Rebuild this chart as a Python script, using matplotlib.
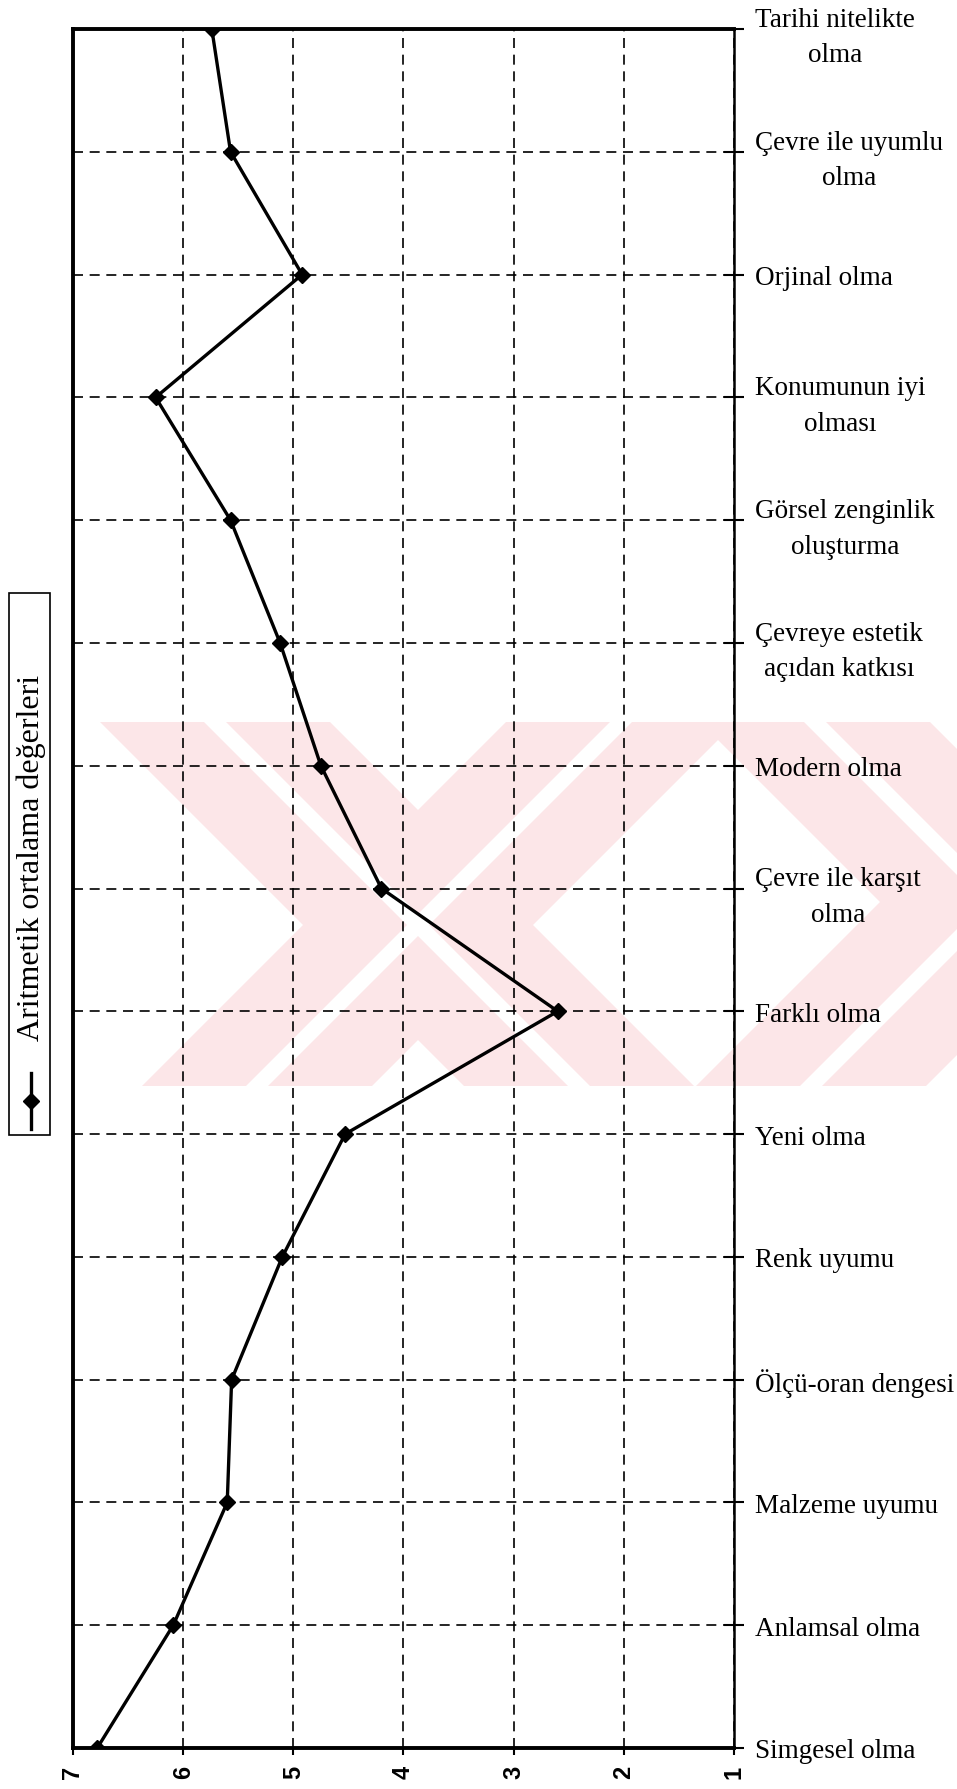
import matplotlib
matplotlib.use("Agg")
import matplotlib.pyplot as plt
from matplotlib.patches import Polygon, Rectangle
from matplotlib.lines import Line2D

# data (top to bottom)
categories = [
    "Tarihi nitelikte\nolma", "Çevre ile uyumlu\nolma", "Orjinal olma",
    "Konumunun iyi\nolması", "Görsel zenginlik\noluşturma",
    "Çevreye estetik\naçıdan katkısı", "Modern olma", "Çevre ile karşıt\nolma",
    "Farklı olma", "Yeni olma", "Renk uyumu", "Ölçü-oran dengesi",
    "Malzeme uyumu", "Anlamsal olma", "Simgesel olma",
]
values = [5.74, 5.57, 4.92, 6.25, 5.57, 5.12, 4.75, 4.20, 2.60, 4.53, 5.10, 5.56, 5.60, 6.09, 6.78]
scale_ticks = [7, 6, 5, 4, 3, 2, 1]
legend_label = "Aritmetik ortalama değerleri"

W, H = 957, 1790
fig = plt.figure(figsize=(W / 100, H / 100), dpi=100)


def fx(px):
    return px / W


def fy(py):
    return 1 - py / H


# faint pink watermark behind the chart
pink = "#fce6e8"
y0, y1 = 723, 1087
bands = [
    # (top-left x, top-right x, shift along the height)
    (100, 330, 364),
    (506, 736, -364),
    (700, 930, 364),
    (1060, 1290, -364),
]
for xl, xr, s in bands:
    pts = [(fx(xl), fy(y0)), (fx(xr), fy(y0)), (fx(xr + s), fy(y1)), (fx(xl + s), fy(y1))]
    fig.add_artist(Polygon(pts, closed=True, transform=fig.transFigure,
                           facecolor=pink, edgecolor="none", zorder=0))
    mid = (xl + xr) / 2
    stripe = [(fx(mid - 11), fy(y0)), (fx(mid + 11), fy(y0)),
              (fx(mid + 11 + s), fy(y1)), (fx(mid - 11 + s), fy(y1))]
    fig.add_artist(Polygon(stripe, closed=True, transform=fig.transFigure,
                           facecolor="white", edgecolor="none", zorder=0.5))

ax = fig.add_axes([fx(73), fy(1749), fx(734) - fx(73), fy(30) - fy(1749)])
ax.set_facecolor("none")
ax.set_zorder(2)

ypos = list(range(len(categories)))
ax.plot(values, ypos, color="black", lw=2.4, marker="D", ms=8,
        markerfacecolor="black", markeredgecolor="black", zorder=3)

ax.set_xlim(7, 1)
ax.set_ylim(len(categories) - 1, 0)

ax.set_xticks(scale_ticks)
ax.set_xticklabels([str(t) for t in scale_ticks], rotation=90,
                   fontsize=17, fontweight="bold", family="Liberation Sans")
ax.set_yticks(ypos)
ax.set_yticklabels(categories, fontsize=19.5, family="Liberation Serif")
ax.yaxis.tick_right()
for lab in ax.get_yticklabels():
    lab.set_multialignment("center")
    lab.set_linespacing(1.55)

ax.tick_params(axis="y", direction="inout", length=14, width=1.5, pad=8,
               right=True, left=False)
ax.tick_params(axis="x", direction="out", length=5, width=1.5, pad=7)

ax.grid(True, color="black", lw=1.2, linestyle=(0, (6, 4)))
ax.set_axisbelow(True)
for sp in ax.spines.values():
    sp.set_linewidth(2.8)
    sp.set_color("black")
ax.spines["right"].set_linewidth(1.8)

# rotated legend drawn by hand on the left
fig.add_artist(Rectangle((fx(9), fy(1136)), fx(50) - fx(9), fy(594) - fy(1136),
                         transform=fig.transFigure, fill=False,
                         edgecolor="black", lw=1.2))
fig.text(fx(31), fy(858), legend_label, rotation=90, ha="center", va="center",
         fontsize=23, family="Liberation Serif")
fig.add_artist(Line2D([fx(31), fx(31)], [fy(1074), fy(1130)],
                      transform=fig.transFigure, color="black", lw=2.4))
fig.add_artist(Line2D([fx(31)], [fy(1102)], transform=fig.transFigure,
                      marker="D", ms=8, color="black"))

fig.savefig("out.png", dpi=100)
